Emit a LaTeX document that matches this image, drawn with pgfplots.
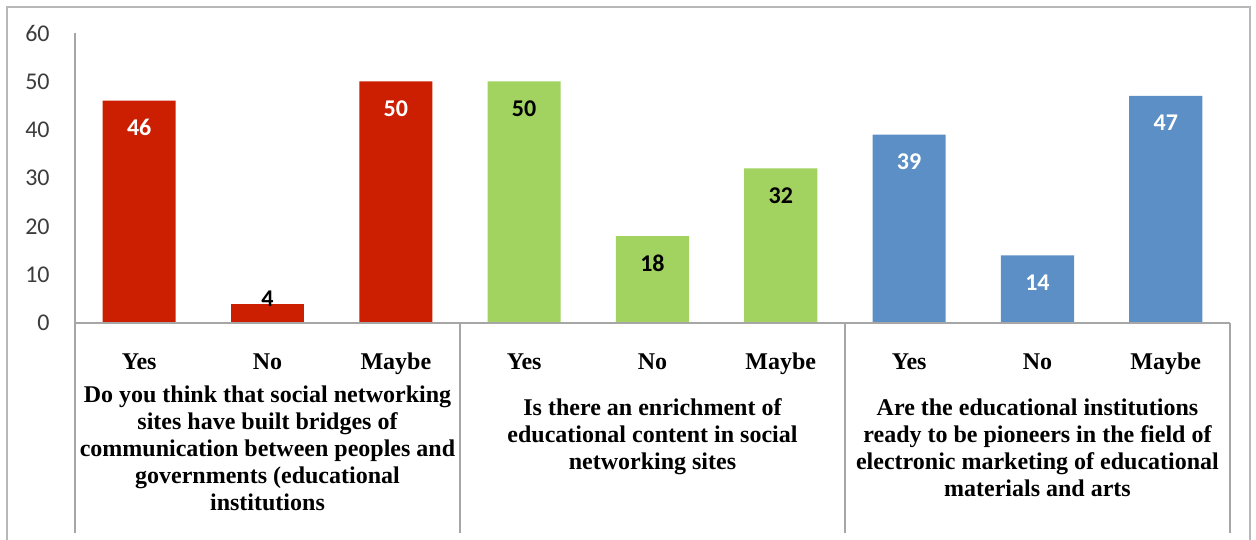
\documentclass[border=0pt]{standalone}
\usepackage{pgfplots}
\pgfplotsset{compat=1.18}
\usepackage{fontspec}
\setmainfont{Liberation Serif}
\newfontfamily\carlito{Carlito}
\definecolor{cred}{HTML}{CC1E00}
\definecolor{cgreen}{HTML}{A2D260}
\definecolor{cblue}{HTML}{5B8FC5}
\definecolor{lgray}{HTML}{A6A6A6}
\definecolor{tgray}{HTML}{3C3C3C}
\begin{document}
\begin{tikzpicture}
\useasboundingbox (-37.5bp,-108.5bp) rectangle (590.5bp,161.5bp);
\begin{axis}[
 at={(0,0)}, anchor=south west,
 scale only axis, width=577.5bp, height=145bp,
 xmin=-0.5, xmax=8.5, ymin=0, ymax=60,
 axis line style={draw=none},
 ytick={0,10,...,60},
 xtick={0,...,8},
 xticklabels={Yes,No,Maybe,Yes,No,Maybe,Yes,No,Maybe},
 major tick length=0pt,
 /pgf/number format/assume math mode=true,
 yticklabel style={font=\carlito\fontsize{12bp}{14bp}\selectfont, text=tgray, anchor=east, inner sep=0pt, xshift=-12.5bp},
 xticklabel style={font=\bfseries\fontsize{12bp}{14bp}\selectfont, anchor=center, inner sep=0pt, text height=8bp, text depth=2bp, yshift=-20.25bp},
 ybar, bar width=0.57, bar shift=0pt,
 clip=false,
 nodes near coords,
 every node near coord/.append style={font=\carlito\bfseries\fontsize{12bp}{14bp}\selectfont, anchor=center, yshift=-13.5bp},
]
\addplot[fill=cred, draw=none, every node near coord/.append style={text=white}] coordinates {(0,46) (2,50)};
\addplot[fill=cred, draw=none, every node near coord/.append style={text=black, yshift=16bp}] coordinates {(1,4)};
\addplot[fill=cgreen, draw=none, every node near coord/.append style={text=black}] coordinates {(3,50) (4,18) (5,32)};
\addplot[fill=cblue, draw=none, every node near coord/.append style={text=white}] coordinates {(6,39) (7,14) (8,47)};

\node[anchor=north, align=center, inner sep=0pt, font=\bfseries\fontsize{12bp}{13.5bp}\selectfont] at ([yshift=-31bp]axis cs:1,0) {Do you think that social networking\\ sites have built bridges of\\ communication between peoples and\\ governments (educational\\ institutions};
\node[anchor=north, align=center, inner sep=0pt, font=\bfseries\fontsize{12bp}{13.5bp}\selectfont] at ([yshift=-37.5bp]axis cs:4,0) {Is there an enrichment of\\ educational content in social\\ networking sites};
\node[anchor=north, align=center, inner sep=0pt, font=\bfseries\fontsize{12bp}{13.5bp}\selectfont] at ([yshift=-37.5bp]axis cs:7,0) {Are the educational institutions\\ ready to be pioneers in the field of\\ electronic marketing of educational\\ materials and arts};
\end{axis}
\draw[lgray, line width=0.75bp] (0,145bp) -- (0,-105bp);
\draw[lgray, line width=0.75bp] (0,0) -- (577.5bp,0);
\foreach \x in {192.5,385,577.5} \draw[lgray, line width=0.75bp] (\x bp,0) -- (\x bp,-105bp);
\draw[lgray!80, line width=0.75bp] (-34bp,-108.5bp) -- (-34bp,158bp) -- (587.5bp,158bp) -- (587.5bp,-108.5bp);
\end{tikzpicture}
\end{document}
